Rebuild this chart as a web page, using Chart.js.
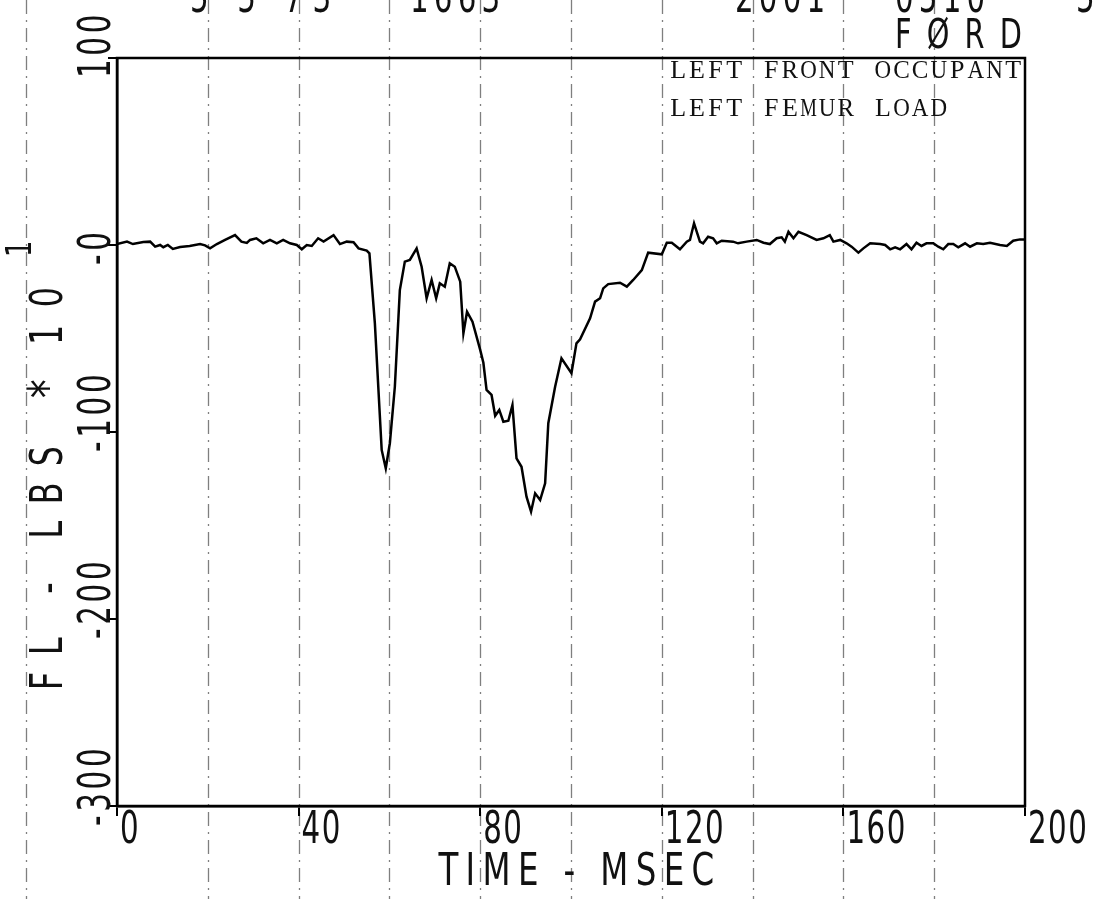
<!DOCTYPE html>
<html>
<head>
<meta charset="utf-8">
<title>Left femur load</title>
<script src="https://cdn.jsdelivr.net/npm/chart.js@4.4.0/dist/chart.umd.min.js"></script>
<style>
    html, body { margin: 0; padding: 0; background: #fff; }
    #wrap { width: 1105px; height: 899px; }
</style>
</head>
<body>
<div id="wrap"><canvas id="femurChart" width="1105" height="899"></canvas></div>
<script>
// Trace: time in msec, load in LBS*10
const timeMs = [
    0, 2.2, 3.5, 5.8, 7.3, 8.4, 9.5, 10.2, 11.2, 12.3, 13.9, 16.0, 18.3, 19.4, 20.5,
    22.0, 23.8, 26.0, 27.4, 28.6, 29.3, 30.7, 32.2, 33.7, 35.2, 36.6, 38.1, 39.6, 40.7,
    41.8, 42.9, 44.3, 45.5, 47.7, 49.1, 50.6, 52.1, 53.2, 55.0, 55.6, 56.8, 58.3, 59.2,
    60.1, 61.2, 62.3, 63.4, 64.5, 66.0, 67.1, 68.2, 69.3, 70.3, 71.1, 72.2, 73.3, 74.4,
    75.6, 76.3, 77.1, 78.3, 80.0, 80.7, 81.4, 82.5, 83.3, 84.2, 85.1, 86.2, 87.1, 88.0,
    89.1, 90.2, 91.2, 92.1, 93.2, 94.3, 95.0, 96.5, 97.9, 100.1, 101.2, 102.0, 104.2,
    105.3, 106.4, 107.1, 108.2, 110.8, 112.3, 113.7, 115.6, 117.0, 120.0, 121.1, 122.2,
    124.0, 125.5, 126.2, 127.1, 128.4, 129.1, 130.2, 131.3, 132.1, 133.2, 135.7, 136.8,
    138.7, 140.9, 142.4, 143.8, 145.3, 146.4, 147.1, 147.9, 149.0, 150.1, 151.9, 154.1,
    155.6, 157.0, 157.8, 159.3, 160.7, 161.8, 163.3, 164.4, 165.9, 168.1, 169.2, 170.3,
    171.4, 172.5, 173.9, 175.0, 176.1, 177.2, 178.3, 179.8, 180.9, 182.0, 183.1, 184.2,
    185.3, 186.8, 187.9, 189.4, 190.8, 192.3, 194.5, 196.0, 197.4, 198.9, 200.0
];
const femurLoad = [
    0.5, 1.8, 0.5, 1.6, 1.8, -0.9, 0, -1.2, 0, -2.1, -1.1, -0.5, 0.5, -0.2, -1.8,
    0.5, 2.7, 5.3, 1.8, 1.1, 2.7, 3.6, 0.9, 2.7, 0.9, 2.7, 0.9, 0, -2.3,
    0, -0.5, 3.6, 1.8, 5.3, 0.5, 1.8, 1.5, -1.8, -3.0, -4.5, -41.9, -109.6, -119.4,
    -106, -75.8, -24.1, -8.9, -8.0, -1.8, -11.6, -28.5, -18.7, -28.5, -20.5, -22.3, -9.8, -11.6,
    -19.6, -47.2, -35.7, -41.0, -56.1, -63.0, -77.5, -80.2, -91.3, -88.2, -94.5, -94.0, -85.6, -114.1,
    -118.6, -134.6, -142.6, -132.8, -136.4, -127.4, -95.3, -75.8, -60.6, -68.6, -52.6, -50.4, -39.2,
    -30.3, -28.5, -23.2, -20.9, -20.2, -22.3, -18.7, -13.4, -4.1, -5.0, 1.2, 1.2,
    -2.3, 1.8, 2.7, 11.6, 1.8, 0.9, 4.4, 3.6, 0.9, 2.3, 1.8, 0.9,
    1.8, 2.7, 1.2, 0.5, 3.6, 4.1, 1.8, 7.1, 3.6, 7.1, 5.3, 2.7,
    3.6, 5.3, 1.8, 2.7, 0.9, -0.9, -4.1, -1.8, 0.9, 0.5, 0, -2.3,
    -1.2, -2.3, 0.5, -2.3, 1.2, -0.5, 0.9, 0.9, -0.9, -2.3, 0.5, 0.5,
    -1.2, 0.9, -0.9, 0.9, 0.5, 1.2, 0, -0.5, 2.3, 3.0, 3.0
];

const xTicks = [0, 40, 80, 120, 160, 200];
const xTickLabels = ['0', '40', '80', '120', '160', '200'];
const yTicks = [100, 0, -100, -200, -300];
const yTickLabels = ['100', '-0', '-100', '-200', '-300'];
const scanLineTimes = [-20, 20, 40, 60, 80, 100, 120, 140, 160, 180];

const headerParts = [['5 5 73', 190, 13], ['1663', 410, 7], ['2001', 735, 7], ['0510', 895, 7], ['5', 1076, 0]];
const noteLines = ['LEFT FRONT OCCUPANT', 'LEFT FEMUR LOAD'];

const PLOT_FONT = "'Liberation Sans Narrow', 'DejaVu Sans Condensed', 'DejaVu Sans', sans-serif";
const TYPE_FONT = "'Liberation Serif', 'DejaVu Serif', serif";

// narrow plotter lettering: squeeze along the text direction
function plotterText(ctx, text, x, y, opts) {
    const o = Object.assign({ size: 44, sx: 0.74, spacing: 0, align: 'left', base: 'alphabetic', rot: false }, opts);
    ctx.save();
    ctx.translate(x, y);
    if (o.rot) ctx.rotate(-Math.PI / 2);
    ctx.scale(o.sx, 1);
    ctx.font = o.size + 'px ' + PLOT_FONT;
    ctx.letterSpacing = o.spacing + 'px';
    ctx.textAlign = o.align;
    ctx.textBaseline = o.base;
    ctx.fillText(text, 0, 0);
    ctx.restore();
}

// faint dash-dot lines of the scanned paper, behind everything
const scanLines = {
    id: 'scanLines',
    beforeDraw(chart) {
        const { ctx, scales: { x } } = chart;
        ctx.save();
        ctx.strokeStyle = 'rgba(0,0,0,0.5)';
        ctx.lineWidth = 1.3;
        ctx.setLineDash([14, 6, 2, 6]);
        scanLineTimes.forEach(t => {
            const px = Math.round(x.getPixelForValue(t)) + 0.5;
            ctx.beginPath();
            ctx.moveTo(px, 0);
            ctx.lineTo(px, chart.height);
            ctx.stroke();
        });
        ctx.restore();
    }
};

// closed frame, tick labels and all the plotter text
const plotText = {
    id: 'plotText',
    afterDraw(chart) {
        const { ctx, chartArea: a, scales: { x, y } } = chart;
        ctx.save();
        ctx.strokeStyle = '#000';
        ctx.lineWidth = 2.5;
        ctx.strokeRect(a.left, a.top, a.right - a.left, a.bottom - a.top);
        ctx.fillStyle = '#111';

        // header, cut off at the top edge of the scan
        headerParts.forEach(([txt, px, sp]) => plotterText(ctx, txt, px, 12, { spacing: sp }));
        plotterText(ctx, 'F\u00D8RD', 895, 48, { size: 40, sx: 0.8, spacing: 19 });

        // x tick labels start at their tick
        xTicks.forEach((v, i) => {
            plotterText(ctx, xTickLabels[i], x.getPixelForValue(v) + 3, 843, { spacing: 2 });
        });

        // y tick labels, rotated, starting just below their tick
        yTicks.forEach((v, i) => {
            plotterText(ctx, yTickLabels[i], 99, y.getPixelForValue(v) + 20,
                { rot: true, base: 'middle', spacing: 5 });
        });

        // y title with the exponent
        plotterText(ctx, 'FL - LBS', 51, 690, { rot: true, base: 'middle', sx: 0.8, spacing: 21 });
        plotterText(ctx, '*', 51, 398, { rot: true, base: 'middle', size: 52, sx: 0.8 });
        plotterText(ctx, '10', 51, 345, { rot: true, base: 'middle', sx: 0.8, spacing: 22 });
        plotterText(ctx, '1', 22, 257, { rot: true, base: 'middle', size: 36, sx: 0.8 });

        // x title
        plotterText(ctx, 'TIME - MSEC', 580, 885, { align: 'center', sx: 0.82, spacing: 9 });

        // typed note in the top right corner, fixed pitch like a typewriter
        ctx.font = '26px ' + TYPE_FONT;
        ctx.textAlign = 'center';
        ctx.textBaseline = 'alphabetic';
        const pitch = 18.6;
        noteLines.forEach((line, row) => {
            [...line].forEach((ch, i) => {
                const w = ctx.measureText(ch).width;
                const k = w > pitch - 2 ? (pitch - 2) / w : 1;
                ctx.save();
                ctx.translate(669 + pitch * (i + 0.5), 78 + row * 38);
                ctx.scale(k, 1);
                ctx.fillText(ch, 0, 0);
                ctx.restore();
            });
        });
        ctx.restore();
    }
};

class FemurChart {
    constructor() {
        this.chart = null;
        this.create();
    }

    create() {
        const ctx = document.getElementById('femurChart');
        if (!ctx) return;

        const data = {
            datasets: [{
                data: timeMs.map((t, i) => ({ x: t, y: femurLoad[i] })),
                borderColor: '#000',
                borderWidth: 2.5,
                pointRadius: 0,
                tension: 0,
                fill: false
            }]
        };

        const config = {
            type: 'line',
            data: data,
            options: {
                responsive: false,
                animation: false,
                layout: { padding: { left: 0, top: 58, right: 80, bottom: 0 } },
                plugins: {
                    legend: { display: false },
                    tooltip: { enabled: false }
                },
                scales: {
                    x: {
                        type: 'linear',
                        min: 0,
                        max: 200,
                        afterBuildTicks: s => { s.ticks = xTicks.map(v => ({ value: v })); },
                        afterFit: s => { s.height = 93; },
                        grid: { drawOnChartArea: false, color: '#000', lineWidth: 2, tickLength: 10 },
                        border: { color: '#000', width: 2.5 },
                        ticks: { display: false }
                    },
                    y: {
                        min: -300,
                        max: 100,
                        afterBuildTicks: s => { s.ticks = yTicks.map(v => ({ value: v })); },
                        afterFit: s => { s.width = 117; },
                        grid: { drawOnChartArea: false, color: '#000', lineWidth: 2, tickLength: 9 },
                        border: { color: '#000', width: 2.5 },
                        ticks: { display: false }
                    }
                }
            },
            plugins: [scanLines, plotText]
        };

        this.chart = new Chart(ctx, config);
    }
}

document.addEventListener('DOMContentLoaded', function() {
    window.femurChart = new FemurChart();
});
</script>
</body>
</html>
